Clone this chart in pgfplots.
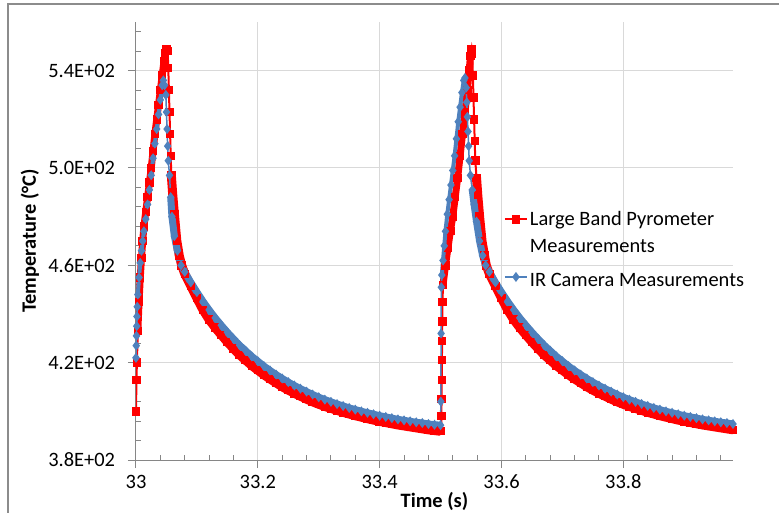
\documentclass[border=0pt]{standalone}
\usepackage{fontspec}
\setmainfont{Carlito}
\usepackage{pgfplots}
\pgfplotsset{compat=1.18}
\usepackage{pgfplotstable}

\definecolor{pyro}{HTML}{FF0000}
\definecolor{ircam}{HTML}{4F81BD}
\definecolor{gridgray}{HTML}{D9D9D9}
\definecolor{axisgray}{HTML}{868686}
\definecolor{framegray}{HTML}{8C8C8C}

% large band pyrometer
\pgfplotstableread{
t T
33.0000 400
33.0008 413
33.0015 420
33.003 433
33.005 445
33.007 455
33.009 463
33.011 470
33.013 476
33.016 482
33.019 488
33.022 494
33.025 500
33.028 507
33.031 514
33.034 520
33.037 526
33.040 532
33.043 538
33.046 544
33.048 547
33.050 549
33.052 548
33.053 541
33.054 532
33.055 523
33.056 514
33.057 505
33.058 497
33.060 490
33.063 481
33.067 470
33.071 464
33.075 460
33.08 456.5
33.09 451.5
33.10 446.5
33.11 441.7
33.12 437.7
33.13 434.4
33.14 431.4
33.15 428.5
33.16 425.8
33.17 423.2
33.18 421.0
33.19 418.8
33.20 416.9
33.21 415.0
33.22 413.3
33.23 411.7
33.24 410.1
33.25 408.7
33.26 407.4
33.27 406.2
33.28 405.0
33.29 403.9
33.30 402.9
33.31 402.0
33.32 401.2
33.33 400.4
33.34 399.6
33.35 398.9
33.36 398.2
33.37 397.6
33.38 397.0
33.39 396.4
33.40 395.9
33.41 395.4
33.42 394.9
33.43 394.4
33.44 394.0
33.45 393.6
33.46 393.2
33.47 392.8
33.48 392.4
33.49 392.1
33.50 391.8
33.5010 392
33.5013 398
33.5016 405
33.5019 413
33.5022 421
33.5025 429
33.5028 437
33.5031 445
33.504 452
33.508 460
33.512 467
33.516 474
33.520 480
33.524 488
33.528 496
33.532 505
33.536 514
33.540 523
33.544 532
33.547 540
33.549 546
33.551 549
33.552 547
33.553 538
33.554 529
33.555 520
33.556 511
33.557 503
33.559 496
33.561 489
33.564 480
33.568 470
33.572 464
33.575 460
33.58 456.5
33.59 451.5
33.60 446.5
33.61 441.7
33.62 437.7
33.63 434.4
33.64 431.4
33.65 428.5
33.66 425.8
33.67 423.2
33.68 421.0
33.69 418.8
33.70 416.9
33.71 415.0
33.72 413.3
33.73 411.7
33.74 410.1
33.75 408.7
33.76 407.4
33.77 406.2
33.78 405.0
33.79 403.9
33.80 402.9
33.81 402.0
33.82 401.2
33.83 400.4
33.84 399.6
33.85 398.9
33.86 398.2
33.87 397.6
33.88 397.0
33.89 396.4
33.90 395.9
33.91 395.4
33.92 394.9
33.93 394.4
33.94 394.0
33.95 393.6
33.96 393.2
33.97 392.8
33.98 392.4
}\pyrodata

% IR camera
\pgfplotstableread{
t T
33.0000 422
33.0004 427
33.0008 431
33.0012 435
33.0016 439
33.0020 443
33.003 448
33.005 455
33.007 461
33.009 466
33.011 470
33.013 474
33.016 479
33.019 485
33.022 491
33.025 497
33.028 504
33.031 510
33.034 516
33.037 522
33.040 528
33.043 534
33.045 536
33.047 534
33.049 530
33.050 523
33.051 516
33.052 509
33.053 503
33.055 497
33.057 488
33.059 480
33.063 472
33.068 466
33.074 460
33.08 457.3
33.09 453.0
33.10 449.0
33.11 445.2
33.12 441.7
33.13 438.4
33.14 435.4
33.15 432.5
33.16 429.8
33.17 427.2
33.18 424.9
33.19 422.6
33.20 420.6
33.21 418.6
33.22 416.8
33.23 415.1
33.24 413.5
33.25 412.0
33.26 410.6
33.27 409.3
33.28 408.1
33.29 406.9
33.30 405.8
33.31 404.8
33.32 403.9
33.33 403.0
33.34 402.2
33.35 401.4
33.36 400.7
33.37 400.0
33.38 399.4
33.39 398.8
33.40 398.2
33.41 397.7
33.42 397.2
33.43 396.7
33.44 396.3
33.45 395.9
33.46 395.5
33.47 395.2
33.48 394.8
33.49 394.5
33.50 394.3
33.5004 404
33.5008 432
33.5012 451
33.502 456
33.504 462
33.506 468
33.508 474
33.511 481
33.514 487
33.517 493
33.520 499
33.523 505
33.526 512
33.529 519
33.532 525
33.535 531
33.538 536
33.540 537
33.542 533
33.543 527
33.544 521
33.545 515
33.546 509
33.547 503
33.549 497
33.552 491
33.555 485
33.559 478
33.564 470
33.569 464
33.574 460
33.58 457.3
33.59 453.0
33.60 449.0
33.61 445.2
33.62 441.7
33.63 438.4
33.64 435.4
33.65 432.5
33.66 429.8
33.67 427.2
33.68 424.9
33.69 422.6
33.70 420.6
33.71 418.6
33.72 416.8
33.73 415.1
33.74 413.5
33.75 412.0
33.76 410.6
33.77 409.3
33.78 408.1
33.79 406.9
33.80 405.8
33.81 404.8
33.82 403.9
33.83 403.0
33.84 402.2
33.85 401.4
33.86 400.7
33.87 400.0
33.88 399.4
33.89 398.8
33.90 398.2
33.91 397.7
33.92 397.2
33.93 396.7
33.94 396.3
33.95 395.9
33.96 395.5
33.97 395.2
33.98 394.8
}\irdata

\pgfplotsset{
    band/.style={line width=#1, line join=round, forget plot},
}

\begin{document}
\fontsize{20.5}{24.6}\selectfont
\begin{tikzpicture}
\useasboundingbox (-136bp,-53bp) rectangle (643bp,460bp);
\begin{axis}[
    at={(0bp,0bp)}, anchor=south west,
    scale only axis, width=597bp, height=438bp,
    xmin=33, xmax=33.98, ymin=380, ymax=560,
    axis lines*=left,
    axis line style={draw=axisgray, line width=1bp},
    xtick={33,33.2,33.4,33.6,33.8},
    xticklabels={33,33.2,33.4,33.6,33.8},
    ytick={380,420,460,500,540},
    yticklabels={3.8E+02,4.2E+02,4.6E+02,5.0E+02,5.4E+02},
    extra x ticks={33.04,33.08,33.12,33.16,33.24,33.28,33.32,33.36,33.44,33.48,33.52,33.56,33.64,33.68,33.72,33.76,33.84,33.88,33.92,33.96},
    extra x tick labels={},
    extra y ticks={388,396,404,412,428,436,444,452,468,476,484,492,508,516,524,532,548,556},
    extra y tick labels={},
    extra tick style={grid=none, tick align=inside, major tick length=5bp},
    tick align=outside, major tick length=8bp,
    tick style={draw=axisgray, line width=1bp},
    grid=major,
    major grid style={draw=gridgray, line width=1bp},
    tick label style={font=\fontsize{20.5}{24.6}\selectfont, text=black},
    yticklabel style={xshift=-6bp},
    xlabel={\bfseries Time (s)},
    xlabel style={at={(axis description cs:0.5,-0.0936)}, anchor=center, font=\fontsize{20.5}{24.6}\selectfont},
    ylabel={\bfseries Temperature (°C)},
    ylabel style={at={(axis description cs:-0.1776,0.5)}, anchor=center, font=\fontsize{20.5}{24.6}\selectfont},
    legend cell align=left,
    legend style={at={(axis description cs:0.616,0.575)}, anchor=north west,
        draw=none, fill=none, inner sep=0pt, row sep=5bp,
        font=\fontsize{20.5}{24.6}\selectfont},
    legend image code/.code={\draw[mark repeat=2,mark phase=2,#1] plot coordinates {(0bp,0bp) (11bp,0bp) (22bp,0bp)};},
]
% the densely sampled stretches read as solid bands
\addplot[color=pyro, band=7bp, restrict x to domain=33.002:33.052] table {\pyrodata};
\addplot[color=pyro, band=9bp, restrict x to domain=33.058:33.5005] table {\pyrodata};
\addplot[color=pyro, band=7bp, restrict x to domain=33.504:33.552] table {\pyrodata};
\addplot[color=pyro, band=9bp, restrict x to domain=33.559:33.99] table {\pyrodata};
\addplot[color=pyro, line width=2bp, mark=square*, mark size=3.2bp, mark options={solid}] table {\pyrodata};
\addlegendentry{\rule[-5bp]{0pt}{20bp}Large Band Pyrometer}
\addlegendimage{empty legend}
\addlegendentry{\rule[-5bp]{0pt}{20bp}Measurements}
\addplot[color=ircam, band=4bp, restrict x to domain=33.002:33.046] table {\irdata};
\addplot[color=ircam, band=7bp, restrict x to domain=33.057:33.5002] table {\irdata};
\addplot[color=ircam, band=4bp, restrict x to domain=33.502:33.541] table {\irdata};
\addplot[color=ircam, band=7bp, restrict x to domain=33.552:33.99] table {\irdata};
\addplot[color=ircam, line width=1.5bp, mark=diamond*, mark size=3.8bp, mark options={solid}] table {\irdata};
\addlegendentry{\rule[-5bp]{0pt}{27bp}IR Camera Measurements}
\end{axis}
\draw[framegray, line width=1.5bp] (-128bp,-53bp) -- (-128bp,456bp) -- (643bp,456bp);
\end{tikzpicture}
\end{document}
